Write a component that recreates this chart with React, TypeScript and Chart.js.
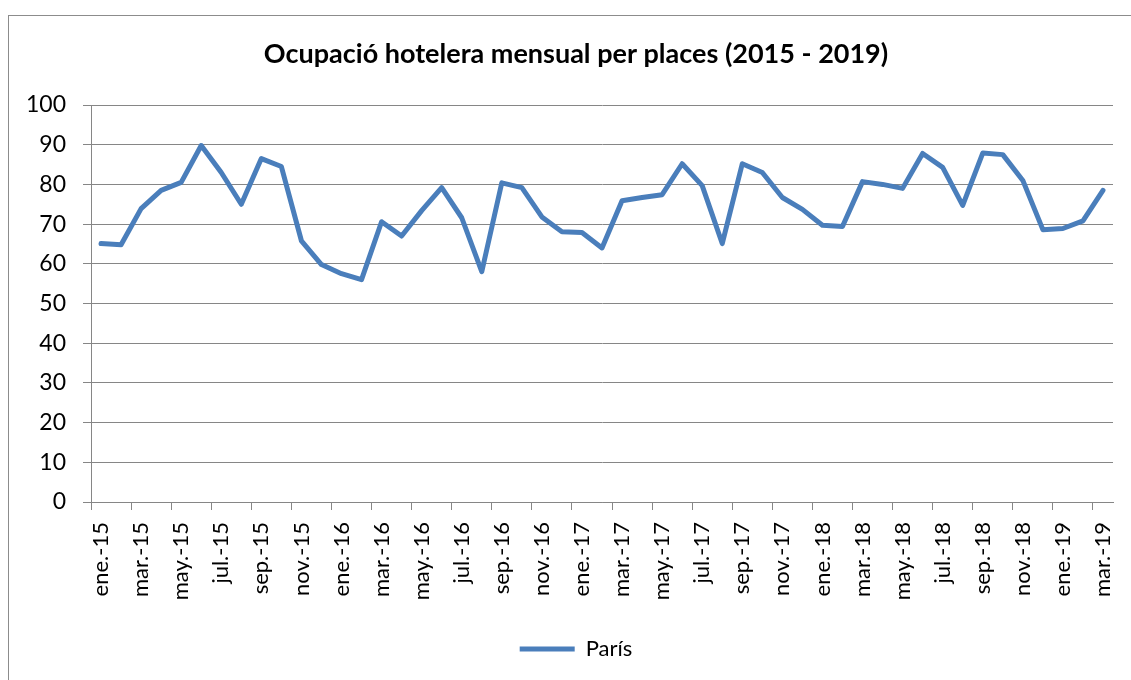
import React, { useEffect, useRef } from "react";
import { Chart, registerables } from "chart.js";

Chart.register(...registerables);

const MONTHS = ["ene.", "feb.", "mar.", "abr.", "may.", "jun.", "jul.", "ago.", "sep.", "oct.", "nov.", "dic."];
const YEARS = ["15", "16", "17", "18", "19"];
const MONTH_COUNT = 51;

const LABELS: string[] = [];
for (let i = 0; i < MONTH_COUNT; i++) {
  LABELS.push(`${MONTHS[i % 12]}-${YEARS[Math.floor(i / 12)]}`);
}

const PARIS = [
  65.1, 64.8, 73.9, 78.5, 80.5, 89.8, 83.0, 75.0, 86.5, 84.5, 65.8, 59.8,
  57.5, 56.0, 70.6, 67.0, 73.4, 79.2, 71.6, 58.0, 80.4, 79.2, 71.8, 68.1,
  67.9, 64.0, 75.9, 76.7, 77.4, 85.2, 79.7, 65.1, 85.2, 83.0, 76.7, 73.7,
  69.7, 69.4, 80.7, 80.0, 79.0, 87.8, 84.3, 74.7, 87.9, 87.5, 81.0, 68.6,
  68.9, 70.8, 78.5,
];

const TITLE = "Ocupació hotelera mensual per places (2015 - 2019)";
const SERIES_NAME = "París";
const Y_MIN = 0;
const Y_MAX = 100;
const Y_STEP = 10;

const FONT = "Lato";
const GRID = "#868686";
const LINE = "#4a7ebb";

export default function App() {
  const ref = useRef<HTMLCanvasElement | null>(null);

  useEffect(() => {
    if (!ref.current) return;
    const chart = new Chart(ref.current, {
      type: "line",
      data: {
        labels: LABELS,
        datasets: [
          {
            label: SERIES_NAME,
            data: PARIS,
            yAxisID: "y",
            borderColor: LINE,
            backgroundColor: LINE,
            borderWidth: 5,
            pointRadius: 0,
            pointStyle: "line",
            tension: 0,
            borderJoinStyle: "round",
            borderCapStyle: "round",
          },
        ],
      },
      options: {
        responsive: false,
        animation: false,
        layout: { padding: { left: 21, right: 0, top: 0, bottom: 10 } },
        plugins: {
          title: {
            display: true,
            text: TITLE,
            color: "#000",
            font: { family: FONT, size: 27, weight: "bold", lineHeight: 1.2 },
            padding: { top: 37.8, bottom: 34.8 },
          },
          legend: {
            display: true,
            position: "bottom",
            labels: {
              usePointStyle: true,
              pointStyle: "line",
              pointStyleWidth: 55,
              color: "#000",
              font: { family: FONT, size: 22 },
              padding: 21,
            },
          },
          tooltip: { enabled: false },
        },
        scales: {
          x: {
            type: "category",
            offset: true,
            afterFit: (s: any) => {
              s.height = 115;
              s.paddingLeft = 0;
              s.paddingRight = 0;
            },
            grid: {
              offset: true,
              drawOnChartArea: false,
              drawTicks: true,
              tickLength: 8,
              color: (c: any) => (c.index % 2 === 0 ? GRID : "rgba(0,0,0,0)"),
            },
            border: { color: GRID, width: 1 },
            ticks: {
              autoSkip: false,
              minRotation: 90,
              maxRotation: 90,
              padding: 12,
              color: "#000",
              font: { family: FONT, size: 22 },
              callback: (_v: any, i: number) => (i % 2 === 0 ? LABELS[i] : ""),
            },
          },
          y: {
            position: "left",
            min: Y_MIN,
            max: Y_MAX,
            afterFit: (s: any) => {
              s.width = 70;
            },
            grid: {
              color: GRID,
              lineWidth: 1,
              tickLength: 8,
            },
            border: { color: GRID, width: 1 },
            ticks: {
              stepSize: Y_STEP,
              padding: 17,
              color: "#000",
              font: { family: FONT, size: 23 },
            },
          },
          yPad: {
            type: "linear",
            position: "right",
            display: true,
            afterFit: (s: any) => {
              s.width = 18;
            },
            grid: { display: false, drawTicks: false },
            border: { display: false },
            ticks: { display: false },
          },
        },
      },
    });
    return () => chart.destroy();
  }, []);

  return (
    <div style={{ position: "absolute", left: 0, top: 0, width: 1131, height: 680, overflow: "hidden", background: "#fff" }}>
      <div
        style={{
          position: "absolute",
          left: 8,
          top: 15,
          width: 1200,
          height: 700,
          border: "1px solid #8c8c8c",
          boxSizing: "border-box",
        }}
      />
      <canvas ref={ref} width={1131} height={680} style={{ position: "absolute", left: 0, top: 0 }} />
    </div>
  );
}
